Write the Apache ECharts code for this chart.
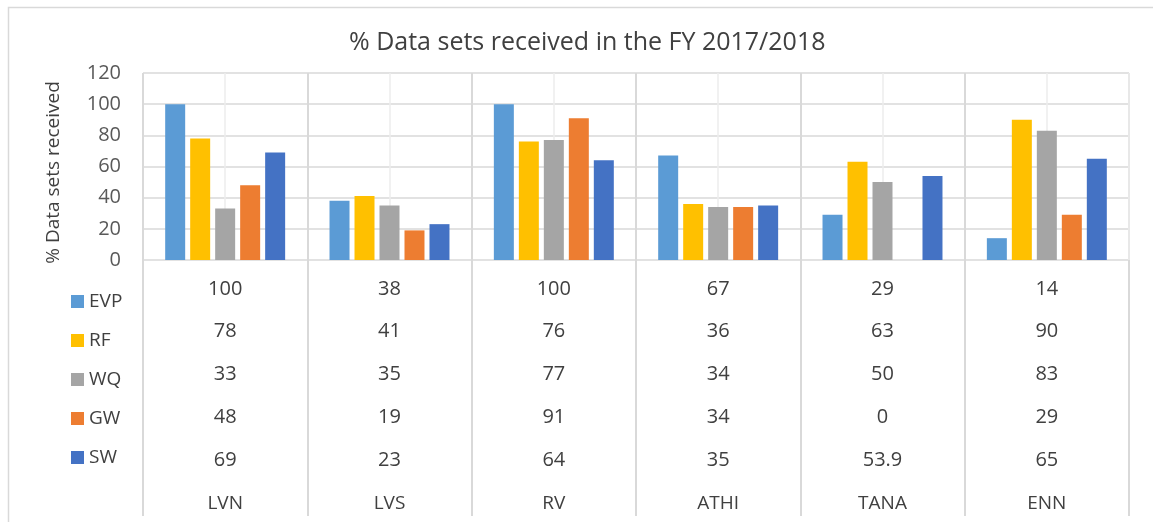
<!DOCTYPE html>
<html>
<head>
<meta charset="utf-8">
<style>
html, body { margin: 0; padding: 0; background: #fff; }
#chart { width: 1153px; height: 522px; }
</style>
<script src="https://cdn.jsdelivr.net/npm/echarts@6/dist/echarts.min.js"></script>
</head>
<body>
<div id="chart"></div>
<script>
var regions = ['LVN', 'LVS', 'RV', 'ATHI', 'TANA', 'ENN'];
var seriesNames = ['EVP', 'RF', 'WQ', 'GW', 'SW'];
var evp = [100, 38, 100, 67, 29, 14];
var rf = [78, 41, 76, 36, 63, 90];
var wq = [33, 35, 77, 34, 50, 83];
var gw = [48, 19, 91, 34, 0, 29];
var sw = [69, 23, 64, 35, 53.9, 65];
var yTicks = [0, 20, 40, 60, 80, 100, 120];

var colors = ['#5B9BD5', '#FFC000', '#A5A5A5', '#ED7D31', '#4472C4'];
var allData = [evp, rf, wq, gw, sw];
var font = "'Open Sans', sans-serif";
var gridColor = '#d9d9d9';

var dom = document.getElementById('chart');
var myChart = echarts.init(dom);

// rows of the data table, one hidden-line category axis each
var rowOffsets = [19, 61, 104, 147, 190];
var tableAxes = allData.map(function (values, i) {
	return {
		type: 'category',
		gridIndex: 0,
		position: 'bottom',
		offset: rowOffsets[i],
		data: values.map(function (v) { return String(v); }),
		axisLine: { show: false },
		axisTick: { show: false },
		splitLine: { show: false },
		axisLabel: {
			margin: 0,
			interval: 0,
			color: '#404040',
			fontFamily: font,
			fontSize: 20
		}
	};
});

var option = {
	color: colors,
	textStyle: { fontFamily: font },
	title: {
		text: '% Data sets received in the FY 2017/2018',
		left: 344,
		top: 25,
		textStyle: {
			color: '#404040',
			fontFamily: font,
			fontSize: 25,
			fontWeight: 'normal'
		}
	},
	legend: {
		data: seriesNames,
		orient: 'vertical',
		left: 66,
		top: 287,
		itemWidth: 13,
		itemHeight: 13,
		itemGap: 20,
		icon: 'rect',
		textStyle: {
			color: '#404040',
			fontFamily: font,
			fontSize: 19
		}
	},
	graphic: [{
		type: 'rect',
		left: 6,
		top: 5,
		silent: true,
		shape: { width: 1300, height: 700 },
		style: { fill: 'none', stroke: '#d9d9d9', lineWidth: 1.5 }
	}],
	grid: {
		left: 143,
		right: 24,
		top: 73,
		bottom: 262
	},
	xAxis: [{
		type: 'category',
		data: regions,
		axisLine: { show: false },
		axisTick: {
			show: true,
			inside: false,
			length: 256,
			lineStyle: { color: gridColor, width: 2 }
		},
		splitLine: {
			show: true,
			lineStyle: { color: gridColor, width: 2 }
		},
		axisLabel: {
			margin: 234,
			interval: 0,
			color: '#404040',
			fontFamily: font,
			fontSize: 19
		}
	}, {
		// half-step axis only for the light gridlines at category centres
		type: 'category',
		gridIndex: 0,
		position: 'top',
		data: regions.reduce(function (acc, r) { return acc.concat([r, r]); }, []),
		axisLine: { show: false },
		axisTick: { show: false },
		axisLabel: { show: false },
		splitLine: {
			show: true,
			interval: function (index) { return index % 2 === 1; },
			lineStyle: { color: '#ececec', width: 1.5 }
		}
	}].concat(tableAxes),
	yAxis: {
		type: 'value',
		min: yTicks[0],
		max: yTicks[yTicks.length - 1],
		interval: 20,
		name: '% Data sets received',
		nameLocation: 'middle',
		nameGap: 80,
		nameTextStyle: {
			color: '#404040',
			fontFamily: font,
			fontSize: 19,
			padding: [0, 12, 0, 0]
		},
		axisLine: { show: false },
		axisTick: { show: false },
		axisLabel: {
			margin: 22,
			color: '#595959',
			fontFamily: font,
			fontSize: 20
		},
		splitLine: {
			lineStyle: { color: gridColor, width: 1.5 }
		}
	},
	series: seriesNames.map(function (name, i) {
		return {
			name: name,
			type: 'bar',
			xAxisIndex: 0,
			barGap: '25%',
			barCategoryGap: '27%',
			data: allData[i],
			itemStyle: { color: colors[i] }
		};
	})
};

myChart.setOption(option);
</script>
</body>
</html>
